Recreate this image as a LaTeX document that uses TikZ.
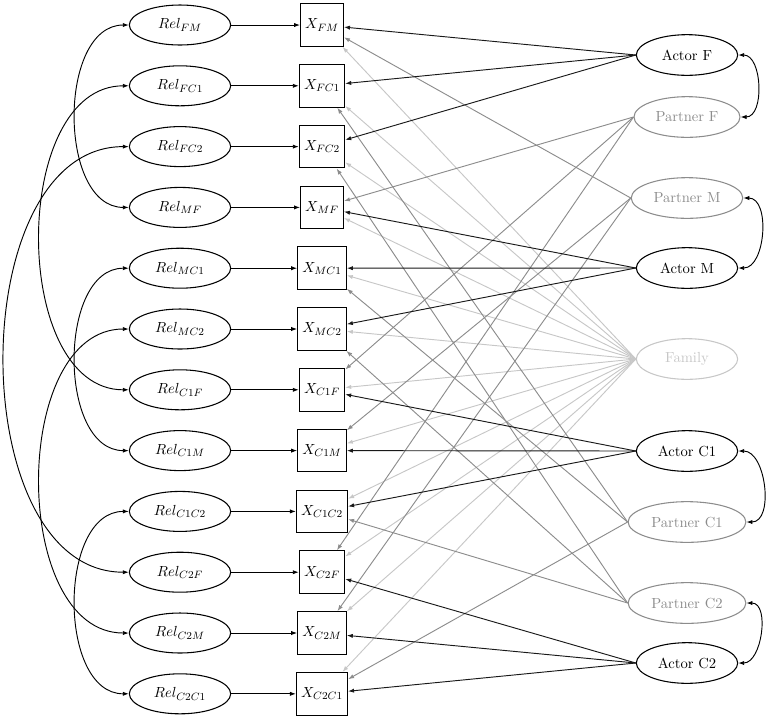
\documentclass[tikz,border=0pt]{standalone}
\usetikzlibrary{arrows.meta,shapes.geometric}
\definecolor{pgray}{gray}{0.55}
\definecolor{fgray}{gray}{0.78}
\begin{document}
\begin{tikzpicture}[x=0.75pt,y=0.75pt,
  every node/.style={font=\fontsize{10.95pt}{13pt}\selectfont},
  relnode/.style={ellipse,draw,line width=0.8pt,minimum width=76pt,minimum height=30pt,inner sep=2pt},
  xbox/.style={draw,line width=0.8pt,minimum width=31.5pt,minimum height=32pt,inner xsep=3.5pt},
  latent/.style={ellipse,draw,line width=0.8pt,minimum width=76pt,minimum height=30.5pt,inner xsep=4.5pt},
  tip/.style={-{Latex[length=4.5pt,width=3.2pt]},line width=0.7pt},
  twotip/.style={{Latex[length=4.5pt,width=3.2pt]}-{Latex[length=4.5pt,width=3.2pt]},line width=0.7pt},
  actoredge/.style={tip,draw=black!90},
  partneredge/.style={tip,draw=pgray},
  familyedge/.style={tip,draw=fgray},
  actornode/.style={latent,draw=black},
  partnernode/.style={latent,draw=pgray,text=pgray},
  familynode/.style={latent,draw=fgray,text=fgray}]
\useasboundingbox (0,0) rectangle (767,-719);

\foreach \i/\s in {1/FM,2/FC1,3/FC2,4/MF,5/MC1,6/MC2,7/C1F,8/C1M,9/C1C2,10/C2F,11/C2M,12/C2C1} {
  \node[relnode] (r\s) at (180,{-(25+60.8*(\i-1))}) {$Rel_{\s}$};
  \node[xbox] (x\s) at (322,{-(25+60.8*(\i-1))}) {$X_{\s}$};
  \draw[tip] (r\s) -- (x\s);
}

\node[actornode] (AF) at (687,-55) {Actor F};
\node[partnernode] (PF) at (687,-117) {Partner F};
\node[partnernode] (PM) at (687,-198) {Partner M};
\node[actornode] (AM) at (687,-268) {Actor M};
\node[familynode] (Fam) at (687,-359) {Family};
\node[actornode] (AC1) at (687,-451) {Actor C1};
\node[partnernode] (PC1) at (687,-522) {Partner C1};
\node[partnernode] (PC2) at (687,-603) {Partner C2};
\node[actornode] (AC2) at (687,-663) {Actor C2};

% family edges
\foreach \t in {FM,FC1,FC2,MF,MC1,MC2,C1F,C1M,C1C2,C2F,C2M,C2C1}
  \draw[familyedge] (Fam.west) -- (x\t);

% partner edges
\foreach \t in {MF,C1F,C2F} \draw[partneredge] (PF.west) -- (x\t);
\foreach \t in {FM,C1M,C2M} \draw[partneredge] (PM.west) -- (x\t);
\foreach \t in {FC1,MC1,C2C1} \draw[partneredge] (PC1.west) -- (x\t);
\foreach \t in {FC2,MC2,C1C2} \draw[partneredge] (PC2.west) -- (x\t);

% actor edges
\foreach \t in {FM,FC1,FC2} \draw[actoredge] (AF.west) -- (x\t);
\foreach \t in {MF,MC1,MC2} \draw[actoredge] (AM.west) -- (x\t);
\foreach \t in {C1F,C1M,C1C2} \draw[actoredge] (AC1.west) -- (x\t);
\foreach \t in {C2F,C2M,C2C1} \draw[actoredge] (AC2.west) -- (x\t);

% left covariance arcs
\draw[twotip] (rFM.west) to[out=180,in=180] (rMF.west);
\draw[twotip] (rFC1.west) to[out=180,in=180] (rC1F.west);
\draw[twotip] (rFC2.west) to[out=180,in=180] (rC2F.west);
\draw[twotip] (rMC1.west) to[out=180,in=180] (rC1M.west);
\draw[twotip] (rMC2.west) to[out=180,in=180] (rC2M.west);
\draw[twotip] (rC1C2.west) to[out=180,in=180] (rC2C1.west);

% right covariance arcs
\draw[twotip] (AF.east) to[out=0,in=0] (PF.east);
\draw[twotip] (PM.east) to[out=0,in=0] (AM.east);
\draw[twotip] (AC1.east) to[out=0,in=0] (PC1.east);
\draw[twotip] (PC2.east) to[out=0,in=0] (AC2.east);
\end{tikzpicture}
\end{document}
